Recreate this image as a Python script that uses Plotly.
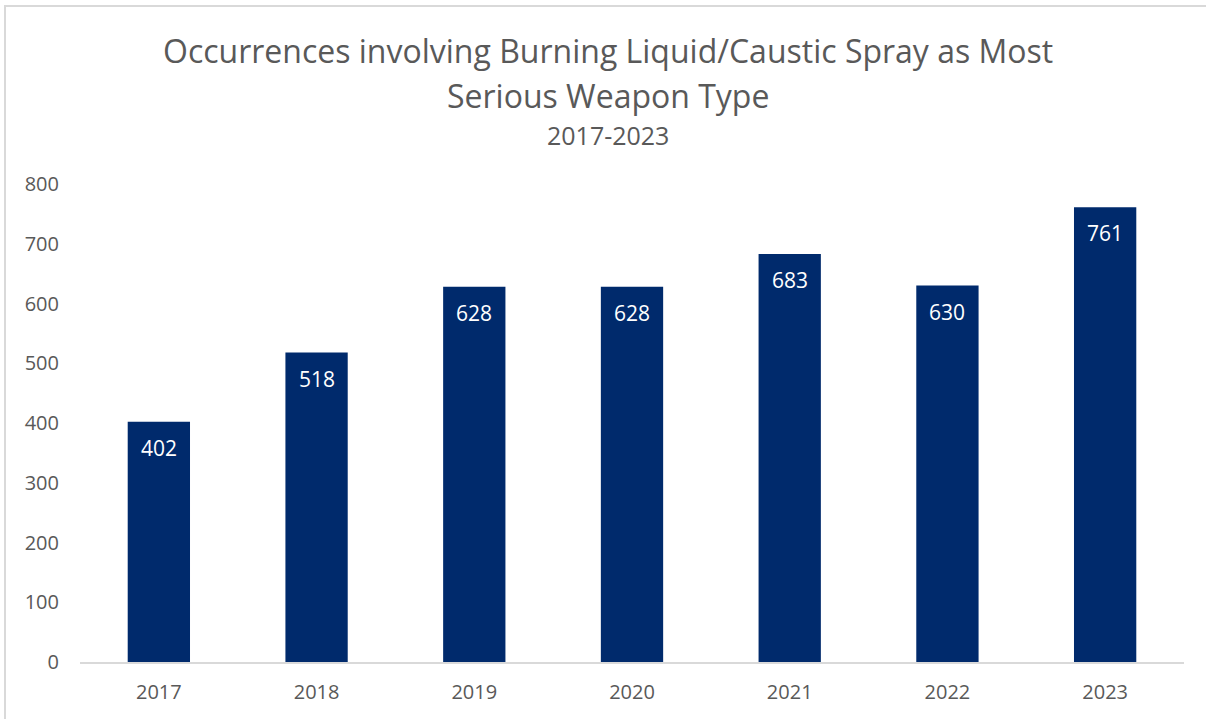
import plotly.graph_objects as go

years = ["2017", "2018", "2019", "2020", "2021", "2022", "2023"]
occurrences = [402, 518, 628, 628, 683, 630, 761]
y_ticks = [0, 100, 200, 300, 400, 500, 600, 700, 800]

title_line1 = "Occurrences involving Burning Liquid/Caustic Spray as Most"
title_line2 = "Serious Weapon Type"
subtitle = "2017-2023"

FONT = "Open Sans"
GRAY = "#595959"
BAR = "#002A6C"

W, H = 1206, 719
L, R, T, B = 80, 22, 184, 57
plot_w = W - L - R
plot_h = H - T - B

fig = go.Figure()
fig.add_trace(go.Bar(
    x=years, y=occurrences, marker=dict(color=BAR, line=dict(width=0)),
    width=0.395, hoverinfo="x+y",
))

# data labels inside the top of each bar (x given as category index)
for i, v in enumerate(occurrences):
    fig.add_annotation(x=i, y=v, xref="x", yref="y", text=str(v), showarrow=False,
                       yanchor="middle", yshift=-26,
                       font=dict(family=FONT, size=21, color="white"))

def px_to_paper_y(py):
    return (H - B - py) / plot_h

title_x = (608 - L) / plot_w
fig.add_annotation(text=title_line1, x=title_x, xref="paper", y=px_to_paper_y(50), yref="paper",
                   showarrow=False, yanchor="middle", xanchor="center",
                   font=dict(family=FONT, size=32, color=GRAY))
fig.add_annotation(text=title_line2, x=title_x, xref="paper", y=px_to_paper_y(96), yref="paper",
                   showarrow=False, yanchor="middle", xanchor="center",
                   font=dict(family=FONT, size=32, color=GRAY))
fig.add_annotation(text=subtitle, x=title_x, xref="paper", y=px_to_paper_y(135), yref="paper",
                   showarrow=False, yanchor="middle", xanchor="center",
                   font=dict(family=FONT, size=25, color=GRAY))

# chart border (left/top visible; right/bottom cut off)
fig.add_shape(type="rect", xref="paper", yref="paper",
              x0=(5 - L) / plot_w, x1=(W + 5 - L) / plot_w,
              y0=px_to_paper_y(H + 5), y1=px_to_paper_y(6),
              line=dict(color="#D9D9D9", width=2), fillcolor="rgba(0,0,0,0)", layer="below")

fig.update_layout(
    width=W, height=H,
    margin=dict(l=L, r=R, t=T, b=B),
    paper_bgcolor="white", plot_bgcolor="white",
    showlegend=False,
    font=dict(family=FONT, color=GRAY, size=20),
    xaxis=dict(type="category", range=[-0.5, len(years) - 0.5], showgrid=False,
               showline=True, linecolor="#D9D9D9", linewidth=2,
               ticks="", tickfont=dict(size=20, color=GRAY), ticklabelstandoff=11,
               zeroline=False),
    yaxis=dict(range=[0, 800], tickvals=y_ticks, showgrid=False, showline=False,
               zeroline=False, ticks="", tickfont=dict(size=20, color=GRAY),
               ticklabelstandoff=20),
)

fig.write_html("out.html")
